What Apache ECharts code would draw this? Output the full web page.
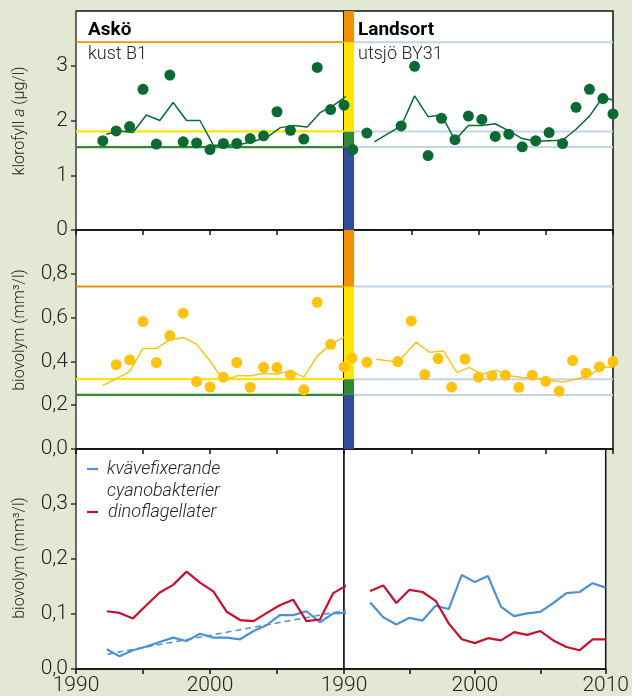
<!DOCTYPE html>
<html><head><meta charset="utf-8">
<script src="https://cdn.jsdelivr.net/npm/echarts/dist/echarts.min.js"></script>
<style>html,body{margin:0;padding:0;background:#e2e8d3;}#c{width:632px;height:696px;}</style>
</head><body><div id="c"></div>
<script>
// ---------- DATA ----------
// Panel 1: klorofyll a (µg/l)
const askoChlYears = [1992,1993,1994,1995,1996,1997,1998,1999,2000,2001,2002,2003,2004,2005,2006,2007,2008,2009,2010];
const askoChlDots  = [1.63,1.81,1.89,2.57,1.57,2.83,1.61,1.59,1.47,1.58,1.58,1.67,1.72,2.16,1.82,1.66,2.97,2.20,2.28];
const askoChlLineYears = [1992.25,1993.25,1994.25,1995.25,1996.25,1997.25,1998.25,1999.25,2000.25,2001.25,2002.25,2003.25,2004.25,2005.25,2006.25,2007.25,2008.25,2009.25,2010.25];
const askoChlLine  = [1.75,1.81,1.78,2.10,2.00,2.33,2.00,2.00,1.55,1.55,1.56,1.62,1.69,1.87,1.91,1.88,2.15,2.28,2.46];

const landChlYears = [1990.65,1991.7,1994.25,1995.25,1996.25,1997.25,1998.25,1999.25,2000.25,2001.25,2002.25,2003.25,2004.25,2005.25,2006.25,2007.25,2008.25,2009.25,2010];
const landChlDots  = [1.47,1.77,1.90,2.99,1.36,2.04,1.65,2.08,2.02,1.71,1.75,1.52,1.63,1.78,1.58,2.24,2.57,2.40,2.12];
const landChlLineYears = [1992.25,1994.25,1995.25,1996.25,1997.25,1998.25,1999.25,2000.25,2001.25,2002.25,2003.25,2004.25,2005.25,2006.25,2007.25,2008.25,2009.25,2010];
const landChlLine  = [1.61,1.90,2.45,2.07,2.10,1.64,1.91,1.91,1.94,1.81,1.67,1.62,1.63,1.64,1.84,2.08,2.43,2.37];

const chlLimits = [1.515, 1.80, 3.43];   // green / yellow / orange class limits

// Panel 2: biovolym (mm3/l)
const askoBioYears = [1993,1994,1995,1996,1997,1998,1999,2000,2001,2002,2003,2004,2005,2006,2007,2008,2009,2010];
const askoBioDots  = [0.385,0.407,0.582,0.395,0.518,0.620,0.308,0.283,0.328,0.395,0.282,0.373,0.372,0.338,0.270,0.670,0.478,0.375];
const askoBioLineYears = [1992,1993,1994,1995,1996,1997,1998,1999,2000,2001,2002,2003,2004,2005,2006,2007,2008,2009,2010];
const askoBioLine  = [0.290,0.321,0.353,0.459,0.459,0.498,0.509,0.479,0.402,0.312,0.334,0.334,0.346,0.341,0.358,0.328,0.424,0.479,0.511];

const landBioYears = [1990.6,1991.7,1994,1995,1996,1997,1998,1999,2000,2001,2002,2003,2004,2005,2006,2007,2008,2009,2010];
const landBioDots  = [0.415,0.396,0.399,0.585,0.340,0.413,0.283,0.411,0.328,0.335,0.337,0.282,0.337,0.309,0.264,0.404,0.346,0.376,0.399];
const landBioLineYears = [1992.4,1994,1995.35,1996.35,1997.4,1998.4,1999.3,2000.3,2001.3,2002.3,2003.3,2004.3,2005.3,2006.3,2007.3,2008.2,2009.2,2010];
const landBioLine  = [0.410,0.396,0.488,0.442,0.447,0.349,0.373,0.341,0.360,0.335,0.326,0.323,0.314,0.306,0.320,0.335,0.373,0.373];

const bioLimits = [0.247, 0.319, 0.742];

// Panel 3: kvävefixerande cyanobakterier / dinoflagellater
const groupYearsL = [1992.3,1993.25,1994.25,1995.25,1996.25,1997.25,1998.25,1999.25,2000.25,2001.25,2002.25,2003.25,2004.25,2005.2,2006.2,2007.2,2008.2,2009.2,2010.2];
const cyanoL = [0.036,0.023,0.034,0.041,0.049,0.057,0.051,0.064,0.057,0.057,0.054,0.069,0.080,0.098,0.098,0.105,0.085,0.101,0.102];
const dinoL  = [0.105,0.102,0.092,0.116,0.139,0.153,0.177,0.157,0.141,0.104,0.089,0.087,0.102,0.116,0.126,0.087,0.090,0.138,0.152];
const cyanoTrendL = [[1992.35,0.027],[2010.2,0.107]];

const groupYearsR = [1992,1993,1994,1995,1996,1997,1998,1999,2000,2001,2002,2003,2004,2005,2006,2007,2008,2009,2010];
const cyanoR = [0.121,0.094,0.081,0.093,0.088,0.115,0.109,0.171,0.158,0.169,0.113,0.096,0.101,0.104,0.120,0.138,0.140,0.156,0.148];
const dinoR  = [0.142,0.152,0.120,0.144,0.140,0.124,0.083,0.054,0.047,0.056,0.052,0.067,0.062,0.069,0.052,0.040,0.034,0.054,0.054];

const xTicks = [1990, 2000, 2010];
const barSpan = [1990, 1990.75];

// ---------- STYLE ----------
const FONT = 'Roboto, "Liberation Sans", Arial, sans-serif';
const C = {
  dkgreen:'#0b6a34', gold:'#ffc20e', goldLine:'#fcc41a',
  orange:'#f39200', yellow:'#ffe500', green:'#2e8b35', blue:'#334d9a', pale:'#c4d3e9',
  cyan:'#4a92d3', red:'#c8102e'
};
const zip = (xs, ys) => xs.map((x,i) => [x, ys[i]]);

const gridPos = [
  {left:76, top:11, width:268, height:219},
  {left:344, top:11, width:269, height:219},
  {left:76, top:230, width:268, height:219},
  {left:344, top:230, width:269, height:219},
  {left:76, top:449, width:268, height:220},
  {left:344, top:449, width:269, height:220}
];
const grid = gridPos.map(g => Object.assign({show:true, backgroundColor:'#fff', borderColor:'#111', borderWidth:1.5}, g));

const xAxis = gridPos.map((g,i) => ({
  type:'value', gridIndex:i, min:1990, max:2010, interval:5,
  axisLine:{show:true, lineStyle:{color:'#111', width:1.5}},
  axisTick:{show:true, length:5, lineStyle:{color:'#111', width:1.5}},
  splitLine:{show:false},
  axisLabel:{show: i>=4, margin:6, fontSize:21, fontFamily:FONT, fontWeight:300, color:'#222',
    showMaxLabel: i!==4, showMinLabel:true,
    formatter: v => xTicks.includes(v) ? String(v) : ''}
}));

const yCfg = [
  {max:4, interval:1, fmt: v => String(v)},
  {max:1, interval:0.2, fmt: v => v.toFixed(1).replace('.', ',')},
  {max:0.4, interval:0.1, fmt: v => v.toFixed(1).replace('.', ',')}
];
const yAxis = gridPos.map((g,i) => {
  const c = yCfg[Math.floor(i/2)];
  const left = i % 2 === 0;
  return {
    type:'value', gridIndex:i, min:0, max:c.max, interval:c.interval, show:left,
    axisLine:{show:true, lineStyle:{color:'#666', width:2}},
    axisTick:{show:true, length:5, lineStyle:{color:'#333', width:1.5}},
    splitLine:{show:false},
    axisLabel:{margin:8, fontSize:21, fontFamily:FONT, fontWeight:300, color:'#222', showMaxLabel:false, formatter:c.fmt}
  };
});

function hline(idx, val, color, width) {
  return {type:'line', xAxisIndex:idx, yAxisIndex:idx, data:[[1990,val],[2010,val]], showSymbol:false, silent:true,
    lineStyle:{color:color, width:width}, z:1, animation:false};
}
function classBar(idx, limits, top) {
  const bounds = [0].concat(limits).concat([top]);
  const colors = [C.blue, C.green, C.yellow, C.orange];
  const data = colors.map((col,k) => [barSpan[0], barSpan[1], bounds[k], bounds[k+1], k]);
  return {type:'custom', xAxisIndex:idx, yAxisIndex:idx, z:2, silent:true, animation:false,
    encode:{x:[0,1], y:[2,3]}, data:data,
    renderItem:(params, api) => {
      const p1 = api.coord([api.value(0), api.value(3)]);
      const p2 = api.coord([api.value(1), api.value(2)]);
      return {type:'rect', shape:{x:p1[0], y:p1[1], width:p2[0]-p1[0], height:p2[1]-p1[1]},
        style:{fill: colors[api.value(4)]}};
    }};
}
function dataLine(idx, pts, color, width, extra) {
  return Object.assign({type:'line', xAxisIndex:idx, yAxisIndex:idx, data:pts, showSymbol:false, clip:false,
    lineStyle:{color:color, width:width}, z:3, animation:false}, extra || {});
}
function dots(idx, pts, color) {
  return {type:'scatter', xAxisIndex:idx, yAxisIndex:idx, data:pts, symbolSize:11, clip:false,
    itemStyle:{color:color, opacity:1}, z:4, animation:false};
}

const series = [
  // row 1
  hline(0, chlLimits[2], C.orange, 1.8), hline(0, chlLimits[1], C.yellow, 2.2), hline(0, chlLimits[0], C.green, 2.2),
  hline(1, chlLimits[2], C.pale, 2), hline(1, chlLimits[1], C.pale, 2), hline(1, chlLimits[0], C.pale, 2),
  classBar(1, chlLimits, 4),
  dataLine(0, zip(askoChlLineYears, askoChlLine), C.dkgreen, 1.5),
  dataLine(1, zip(landChlLineYears, landChlLine), C.dkgreen, 1.5),
  dots(0, zip(askoChlYears, askoChlDots), C.dkgreen),
  dots(1, zip(landChlYears, landChlDots), C.dkgreen),
  // row 2
  hline(2, bioLimits[2], C.orange, 2), hline(2, bioLimits[1], C.yellow, 2.2), hline(2, bioLimits[0], C.green, 2.2),
  hline(3, bioLimits[2], C.pale, 2), hline(3, bioLimits[1], C.pale, 2), hline(3, bioLimits[0], C.pale, 2),
  classBar(3, bioLimits, 1),
  dataLine(2, zip(askoBioLineYears, askoBioLine), C.goldLine, 1.5),
  dataLine(3, zip(landBioLineYears, landBioLine), C.goldLine, 1.5),
  dots(2, zip(askoBioYears, askoBioDots), C.gold),
  dots(3, zip(landBioYears, landBioDots), C.gold),
  // row 3
  dataLine(4, cyanoTrendL, C.cyan, 1.5, {lineStyle:{color:C.cyan, width:1.5, type:[6,4]}}),
  dataLine(4, zip(groupYearsL, cyanoL), C.cyan, 2.2),
  dataLine(4, zip(groupYearsL, dinoL), C.red, 2.2),
  dataLine(5, zip(groupYearsR, cyanoR), C.cyan, 2.2),
  dataLine(5, zip(groupYearsR, dinoR), C.red, 2.2)
];

const nameStyle = {fontFamily:FONT, fontSize:16, fontWeight:300, fill:'#222'};
const graphic = [
  {type:'text', x:88, y:21, z:10, style:{text:'Askö', font:'bold 19px ' + FONT, fill:'#000', verticalAlign:'top'}},
  {type:'text', x:88, y:45, z:10, style:{text:'kust B1', font:'300 18px ' + FONT, fill:'#222', verticalAlign:'top'}},
  {type:'text', x:358, y:21, z:10, style:{text:'Landsort', font:'bold 19px ' + FONT, fill:'#000', verticalAlign:'top'}},
  {type:'text', x:358, y:45, z:10, style:{text:'utsjö BY31', font:'300 18px ' + FONT, fill:'#222', verticalAlign:'top'}},
  {type:'text', x:20, y:121, rotation:Math.PI/2, z:10, style:{
    text:'{n|klorofyll }{i|a}{n| (µg/l)}', align:'center', verticalAlign:'middle',
    rich:{n:Object.assign({}, nameStyle), i:Object.assign({fontStyle:'italic'}, nameStyle)}}},
  {type:'text', x:20, y:330, rotation:Math.PI/2, z:10, style:Object.assign({text:'biovolym (mm³/l)', align:'center', verticalAlign:'middle'}, nameStyle)},
  {type:'text', x:20, y:558, rotation:Math.PI/2, z:10, style:Object.assign({text:'biovolym (mm³/l)', align:'center', verticalAlign:'middle'}, nameStyle)},
  // legend
  {type:'line', z:10, shape:{x1:87, y1:469, x2:98, y2:469}, style:{stroke:C.cyan, lineWidth:2.2}},
  {type:'line', z:10, shape:{x1:87, y1:512, x2:98, y2:512}, style:{stroke:C.red, lineWidth:2.2}},
  {type:'text', x:107, y:469, z:10, style:{text:'kvävefixerande', font:'italic 300 18px ' + FONT, fill:'#222', verticalAlign:'middle'}},
  {type:'text', x:107, y:491, z:10, style:{text:'cyanobakterier', font:'italic 300 18px ' + FONT, fill:'#222', verticalAlign:'middle'}},
  {type:'text', x:108, y:512, z:10, style:{text:'dinoflagellater', font:'italic 300 18px ' + FONT, fill:'#222', verticalAlign:'middle'}}
];

const chart = echarts.init(document.getElementById('c'), null, {renderer:'canvas'});
chart.setOption({backgroundColor:'#e2e8d3', animation:false, grid, xAxis, yAxis, series, graphic});
</script></body></html>
